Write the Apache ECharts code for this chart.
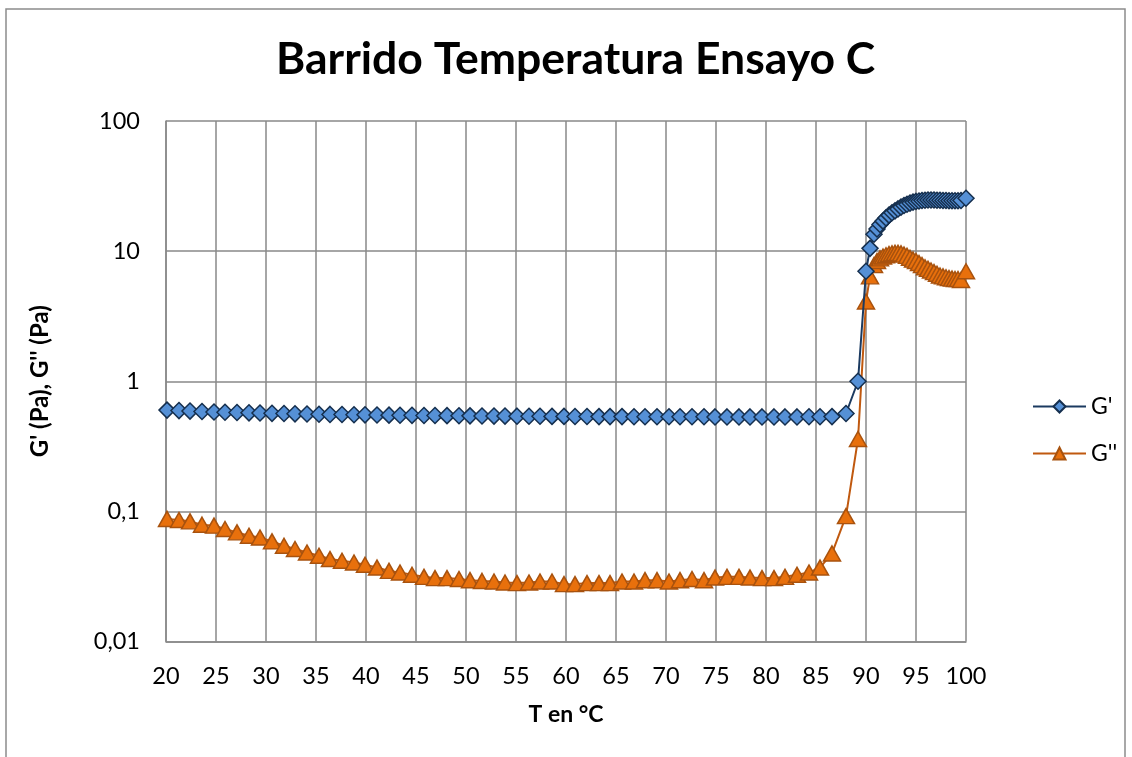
<!DOCTYPE html>
<html>
<head>
<meta charset="utf-8">
<script src="https://cdn.jsdelivr.net/npm/echarts@6/dist/echarts.min.js"></script>
<style>html,body{margin:0;padding:0;background:#fff;}#c{width:1132px;height:757px;}</style>
</head>
<body>
<div id="c"></div>
<script>
const titleText = 'Barrido Temperatura Ensayo C';
const seriesNames = ["G'", "G''"];
const xTickValues = [20, 25, 30, 35, 40, 45, 50, 55, 60, 65, 70, 75, 80, 85, 90, 95, 100];
const yTickValues = [0.01, 0.1, 1, 10, 100];
const yTickLabels = ['0,01', '0,1', '1', '10', '100'];

const temps = [20.1, 21.3, 22.4, 23.6, 24.8, 25.9, 27.1, 28.3, 29.4, 30.6, 31.8, 32.9, 34.1, 35.3, 36.4, 37.6, 38.8, 39.9, 41.1, 42.3,
  43.4, 44.6, 45.8, 46.9, 48.1, 49.3, 50.4, 51.6, 52.8, 53.9, 55.1, 56.3, 57.4, 58.6, 59.8, 60.9, 62.1, 63.3, 64.4, 65.6,
  66.8, 67.9, 69.1, 70.3, 71.4, 72.6, 73.8, 74.9, 76.1, 77.3, 78.4, 79.6, 80.8, 81.9, 83.1, 84.3, 85.4, 86.6, 88.0, 89.2,
  90.0, 90.4, 90.8, 91.1, 91.4, 91.7, 92.0, 92.3, 92.6, 92.9, 93.2, 93.5, 93.8, 94.1, 94.4, 94.7, 95.0, 95.3, 95.6, 95.9,
  96.2, 96.5, 96.8, 97.1, 97.4, 97.7, 98.0, 98.3, 98.6, 98.9, 99.2, 99.5, 100.0];

const gPrime = [0.60, 0.595, 0.59, 0.585, 0.58, 0.578, 0.575, 0.572, 0.57, 0.567, 0.565, 0.562, 0.56, 0.558, 0.556, 0.555, 0.553, 0.552, 0.55, 0.549,
  0.548, 0.547, 0.546, 0.545, 0.544, 0.543, 0.542, 0.541, 0.54, 0.54, 0.539, 0.538, 0.538, 0.537, 0.537, 0.536, 0.536, 0.535, 0.535, 0.535,
  0.534, 0.534, 0.534, 0.533, 0.533, 0.533, 0.533, 0.532, 0.532, 0.532, 0.532, 0.532, 0.532, 0.532, 0.532, 0.533, 0.533, 0.535, 0.565, 1.0,
  7.0, 10.5, 13.5, 14.8, 16.0, 17.0, 18.0, 18.9, 19.7, 20.4, 21.1, 21.8, 22.4, 22.9, 23.4, 23.8, 24.1, 24.3, 24.5, 24.6,
  24.7, 24.7, 24.7, 24.6, 24.6, 24.5, 24.5, 24.4, 24.4, 24.4, 24.4, 24.5, 25.5];

const gDoublePrime = [0.0875, 0.0859, 0.0838, 0.079, 0.0777, 0.0732, 0.069, 0.065, 0.063, 0.0588, 0.0544, 0.0514, 0.0483, 0.0456, 0.043, 0.0417, 0.0405, 0.0389, 0.037, 0.0349,
  0.0339, 0.0326, 0.0314, 0.0307, 0.0307, 0.0302, 0.0296, 0.0292, 0.0289, 0.0284, 0.0281, 0.0284, 0.0289, 0.0289, 0.0276, 0.0276, 0.0281, 0.0281, 0.0281, 0.0289,
  0.0289, 0.0296, 0.0296, 0.0289, 0.0296, 0.0302, 0.0296, 0.031, 0.0314, 0.0314, 0.031, 0.0307, 0.0307, 0.0314, 0.0326, 0.0339, 0.037, 0.0475, 0.092, 0.36,
  4.1, 6.4, 7.8, 8.4, 8.8, 9.1, 9.3, 9.5, 9.6, 9.7, 9.7, 9.6, 9.4, 9.2, 8.9, 8.6, 8.4, 8.1, 7.8, 7.5,
  7.3, 7.1, 6.9, 6.7, 6.5, 6.4, 6.3, 6.2, 6.15, 6.1, 6.1, 6.0, 7.0];

const FONT = 'Lato';
const gridColor = '#898989';

const chart = echarts.init(document.getElementById('c'), null, {renderer: 'canvas'});
chart.setOption({
  backgroundColor: '#ffffff',
  animation: false,
  textStyle: {fontFamily: FONT},
  graphic: [{
    type: 'rect', silent: true, z: -1,
    shape: {x: 6, y: 9, width: 1119, height: 800},
    style: {fill: 'none', stroke: '#8c8c8c', lineWidth: 1.5}
  }],
  title: {
    text: titleText,
    left: 276,
    top: 37,
    padding: 0,
    textStyle: {fontFamily: FONT, fontWeight: 'bold', fontSize: 44.5, color: '#000'}
  },
  legend: {
    orient: 'vertical',
    left: 1027,
    top: 390,
    itemWidth: 53,
    itemHeight: 15,
    itemGap: 24,
    data: seriesNames,
    textStyle: {fontFamily: FONT, fontSize: 23, color: '#000'}
  },
  grid: {left: 166, right: 166, top: 121, bottom: 115.5, containLabel: false},
  xAxis: {
    type: 'value',
    min: xTickValues[0],
    max: xTickValues[xTickValues.length - 1],
    interval: 5,
    name: 'T en °C',
    nameLocation: 'middle',
    nameGap: 62,
    nameTextStyle: {fontFamily: FONT, fontWeight: 'bold', fontSize: 23, color: '#000'},
    axisLine: {lineStyle: {color: gridColor, width: 1.5}},
    axisTick: {show: false},
    axisLabel: {margin: 23, fontFamily: FONT, fontSize: 23.5, color: '#000'},
    splitLine: {show: true, lineStyle: {color: gridColor, width: 1.5}}
  },
  yAxis: {
    type: 'log',
    logBase: 10,
    min: yTickValues[0],
    max: yTickValues[yTickValues.length - 1],
    name: "G' (Pa), G'' (Pa)",
    nameLocation: 'middle',
    nameRotate: 90,
    nameGap: 114,
    nameTextStyle: {fontFamily: FONT, fontWeight: 'bold', fontSize: 24, color: '#000'},
    axisLine: {show: true, lineStyle: {color: gridColor, width: 1.5}},
    axisTick: {show: false},
    axisLabel: {
      margin: 26, fontFamily: FONT, fontSize: 23.5, color: '#000',
      formatter: function (v) {
        const i = Math.round(Math.log10(v)) + 2;
        return yTickLabels[i] !== undefined ? yTickLabels[i] : '';
      }
    },
    splitLine: {show: true, lineStyle: {color: gridColor, width: 1.5}}
  },
  series: [
    {
      name: seriesNames[0],
      type: 'line',
      data: temps.map((t, i) => [t, gPrime[i]]),
      symbol: 'diamond',
      symbolSize: 16,
      showAllSymbol: true,
      lineStyle: {color: '#1B3A60', width: 2},
      itemStyle: {color: '#5590D6', borderColor: '#152F4E', borderWidth: 1.5},
      z: 3
    },
    {
      name: seriesNames[1],
      type: 'line',
      data: temps.map((t, i) => [t, gDoublePrime[i]]),
      symbol: 'triangle',
      symbolSize: [17, 15],
      showAllSymbol: true,
      lineStyle: {color: '#C0590F', width: 2},
      itemStyle: {color: '#E8700C', borderColor: '#A8520E', borderWidth: 1.5},
      z: 2
    }
  ]
});
</script>
</body>
</html>
